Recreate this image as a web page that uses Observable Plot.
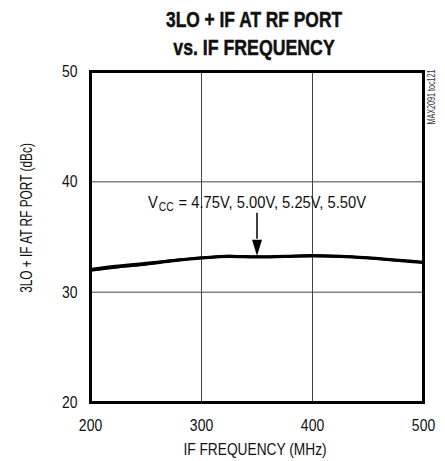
<!DOCTYPE html>
<html>
<head>
<meta charset="utf-8">
<script src="https://cdn.jsdelivr.net/npm/d3@7"></script>
<script src="https://cdn.jsdelivr.net/npm/@observablehq/plot@0.6"></script>
<style>
  html, body { margin: 0; padding: 0; background: #fff; }
  #wrap { position: relative; width: 445px; height: 461px; font-family: "Liberation Sans", Arial, sans-serif; color: #111; }
  .lbl { position: absolute; white-space: nowrap; }
  .tl { position: absolute; left: 254px; white-space: nowrap; font-weight: bold; font-size: 22px; line-height: 22px; -webkit-text-stroke: 0.5px #111; }
  #t1 { top: 9px; }
  #t2 { top: 37px; }
  #xlabel { left: 255px; top: 450px; font-size: 17px; }
  #ylabel { left: 27px; top: 218px; font-size: 17px; }
  #tag { left: 431px; top: 97px; font-size: 10px; color: #333; }
</style>
</head>
<body>
<div id="wrap">
  <div id="t1" class="tl">3LO + IF AT RF PORT</div>
  <div id="t2" class="tl">vs. IF FREQUENCY</div>
  <div id="xlabel" class="lbl">IF FREQUENCY (MHz)</div>
  <div id="ylabel" class="lbl">3LO + IF AT RF PORT (dBc)</div>
  <div id="tag" class="lbl">MAX2091 toc121</div>
</div>
<script>
// IF frequency (MHz)
const freq = [200, 225, 250, 275, 300, 325, 350, 375, 400, 425, 450, 475, 500];
// 3LO + IF at RF port (dBc) for each VCC
const vcc475 = [31.95, 32.25, 32.5, 32.8, 33.05, 33.2, 33.15, 33.2, 33.25, 33.2, 33.05, 32.85, 32.65];
const vcc500 = [32.0, 32.3, 32.55, 32.85, 33.1, 33.25, 33.2, 33.25, 33.3, 33.25, 33.1, 32.9, 32.7];
const vcc525 = [32.05, 32.35, 32.6, 32.9, 33.1, 33.3, 33.2, 33.25, 33.3, 33.25, 33.1, 32.9, 32.7];
const vcc550 = [32.1, 32.4, 32.65, 32.9, 33.15, 33.3, 33.25, 33.3, 33.35, 33.3, 33.15, 32.95, 32.75];
const vccNames = ["4.75V", "5.00V", "5.25V", "5.50V"];
const series = [vcc475, vcc500, vcc525, vcc550];
const xTicks = [200, 300, 400, 500];
const yTicks = [20, 30, 40, 50];
const annotText = "VCC = 4.75V, 5.00V, 5.25V, 5.50V";
const annotPos = {x: 350, y: 38.1};
const arrowShaft = {x: 350, y1: 37.15, y2: 34.8};
const arrowTip = {x: 350, y: 33.3};

const rows = [];
series.forEach((vals, i) => vals.forEach((v, j) => rows.push({vcc: vccNames[i], f: freq[j], v})));

const headSymbol = {
  draw(ctx) {
    ctx.moveTo(0, 0);
    ctx.lineTo(-5, -16);
    ctx.lineTo(5, -16);
    ctx.closePath();
  }
};

const chart = Plot.plot({
  width: 445,
  height: 461,
  marginTop: 71,
  marginBottom: 59,
  marginLeft: 90,
  marginRight: 22,
  style: {fontFamily: '"Liberation Sans", Arial, sans-serif', fontSize: "17px", color: "#111", background: "transparent"},
  x: {domain: [200, 500]},
  y: {domain: [20, 50]},
  marks: [
    Plot.gridX([300, 400], {stroke: "#444", strokeOpacity: 1, strokeWidth: 1}),
    Plot.gridY([30, 40], {stroke: "#444", strokeOpacity: 1, strokeWidth: 1}),
    Plot.line(rows, {x: "f", y: "v", z: "vcc", stroke: "#000", strokeWidth: 2.2, curve: "monotone-x"}),
    Plot.ruleX([arrowShaft], {x: "x", y1: "y1", y2: "y2", stroke: "#000", strokeWidth: 1.5}),
    Plot.dot([arrowTip], {x: "x", y: "y", symbol: headSymbol, fill: "#000", stroke: "none", r: 5}),
    Plot.text([annotPos], {x: "x", y: "y", text: () => annotText, fontSize: 17, fill: "#111", className: "annot"}),
    Plot.frame({stroke: "#000", strokeWidth: 3}),
    Plot.axisX(xTicks, {tickSize: 0, tickPadding: 16, label: null, fontSize: 17, className: "tick"}),
    Plot.axisY(yTicks, {tickSize: 0, tickPadding: 13, label: null, fontSize: 17, className: "tick"})
  ]
});

chart.style.position = "absolute";
chart.style.left = "0";
chart.style.top = "0";
document.getElementById("wrap").prepend(chart);

const ns = "http://www.w3.org/2000/svg";
// subscript "CC" in the annotation
chart.querySelectorAll(".annot text").forEach(t => {
  const s = t.textContent;
  const rest = s.slice(3);
  t.textContent = "";
  const a = document.createElementNS(ns, "tspan"); a.textContent = "V"; t.appendChild(a);
  const b = document.createElementNS(ns, "tspan"); b.textContent = "CC"; b.setAttribute("font-size", "12"); b.setAttribute("dy", "3"); b.setAttribute("dx", "0.8"); t.appendChild(b);
  const c = document.createElementNS(ns, "tspan"); c.textContent = rest; c.setAttribute("dy", "-3"); c.setAttribute("dx", "0.8"); t.appendChild(c);
  // squeeze each part so the whole line is about 218px wide
  const parts = [a, b, c];
  const lens = parts.map(p => p.getComputedTextLength());
  const k = 216.4 / d3.sum(lens);
  parts.forEach((p, i) => {
    p.setAttribute("textLength", lens[i] * k);
    p.setAttribute("lengthAdjust", "spacingAndGlyphs");
  });
});

// condensed look for tick labels
chart.querySelectorAll(".tick text").forEach(t => {
  t.setAttribute("textLength", t.getComputedTextLength() * 0.82);
  t.setAttribute("lengthAdjust", "spacingAndGlyphs");
});

// HTML labels squeezed to the reference widths
function place(id, target, rot) {
  const el = document.getElementById(id);
  const k = target / el.offsetWidth;
  el.style.transform = `translate(-50%, -50%) ${rot ? "rotate(-90deg)" : ""} scaleX(${k})`;
}
function placeTitle(id, target) {
  const el = document.getElementById(id);
  const k = target / el.offsetWidth;
  el.style.transform = `translateX(-50%) scaleX(${k})`;
}
placeTitle("t1", 176);
placeTitle("t2", 161);
place("xlabel", 143, false);
place("ylabel", 150, true);
place("tag", 55, true);
</script>
</body>
</html>
